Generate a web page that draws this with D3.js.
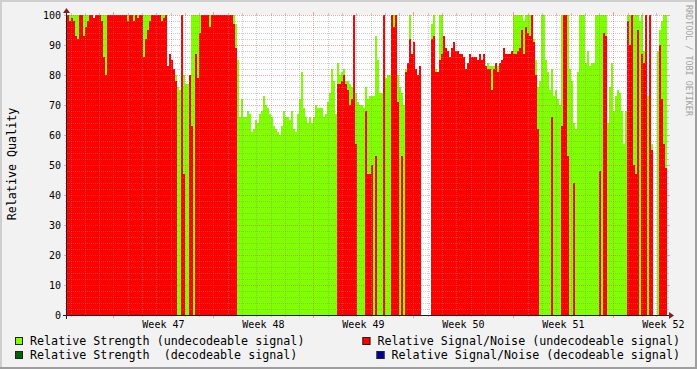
<!DOCTYPE html>
<html lang="en">
<head>
  <meta charset="UTF-8">
  <title>Relative Quality</title>
  <style>
    * {box-sizing: border-box;}
    html, body {
      margin: 0;
      padding: 0;
      background: #f2f2f2;
    }
    text {font-family: "DejaVu Sans Mono", monospace; white-space: pre;}
  </style>
</head>
<body>
  <svg id="chart"></svg>

  <script src="https://d3js.org/d3.v7.min.js"></script>
  <script>
    // samples cover Thu 15 Nov 2007 18:00 .. 42 days later, 300 slots
    const strength = [
      100,100,100,100,100,100,100,100,100,100,100,100,100,99,100,100,100,100,100,100,100,100,100,100,100,
      100,100,100,100,100,100,100,100,100,100,100,100,100,100,100,100,100,100,100,100,100,100,100,100,100,
      80,80,80,80,80,76,75,80,80,77,77,78,100,100,100,100,100,100,100,100,100,100,100,100,100,
      100,100,100,100,100,100,100,100,100,97,85,66,72,66,66,68,67,61,62,65,64,67,68,73,70,
      69,67,66,63,62,61,60,63,68,66,66,65,68,62,61,67,72,81,69,66,64,66,64,66,70,
      69,69,69,66,67,71,74,82,78,67,84,80,81,82,78,78,77,76,76,74,71,70,70,69,76,
      72,73,73,73,93,85,74,74,80,79,80,80,78,100,100,80,76,74,70,82,82,100,84,84,80,
      80,82,null,null,null,null,null,97,100,82,81,100,100,88,87,86,85,86,87,86,86,85,85,84,80,
      82,84,84,84,84,84,84,84,84,82,84,83,83,83,82,83,82,83,86,86,86,86,86,100,100,
      100,100,100,98,100,100,100,100,92,85,76,78,100,100,85,81,75,82,73,75,72,70,100,100,100,
      100,82,78,64,62,81,100,100,100,84,88,83,84,84,100,100,100,100,100,100,64,76,84,68,73,
      75,74,68,57,68,100,100,100,100,100,100,98,100,88,82,73,72,57,null,null,88,95,98,100,100
    ]
    const signalNoise = [
      100,98,99,98,93,92,100,100,93,96,98,100,100,99,100,100,100,98,86,80,100,100,100,100,100,
      100,100,100,100,100,98,100,100,98,100,99,100,100,86,92,95,98,100,100,100,100,100,98,99,100,
      83,87,85,82,78,0,0,100,47,0,0,80,63,0,87,79,94,100,100,100,100,96,100,100,100,
      100,100,100,100,100,100,100,100,97,89,0,0,0,0,0,0,0,0,0,0,0,0,0,0,0,
      0,0,0,0,0,0,0,0,0,0,0,0,0,0,0,0,0,0,0,0,0,0,0,0,0,
      0,0,0,0,0,0,0,0,0,0,77,77,78,80,77,75,70,72,100,57,0,0,0,0,68,
      47,47,50,0,53,0,0,0,100,0,0,0,100,96,100,71,0,53,0,81,84,92,87,91,82,
      80,83,null,null,null,null,null,92,93,81,81,85,87,93,89,88,86,89,91,88,88,87,87,86,82,
      84,87,86,86,86,85,87,85,87,83,82,82,75,82,84,81,84,85,89,87,87,87,88,87,87,
      88,89,95,87,96,94,93,100,91,80,62,0,0,0,0,0,0,66,0,0,0,0,63,100,100,
      53,0,0,44,0,0,0,0,0,0,0,0,0,0,0,0,48,0,94,93,0,0,0,0,0,
      0,0,0,0,0,98,90,100,50,47,95,0,87,84,100,0,100,55,null,null,0,90,72,57,49
    ]
    const yTicks = [0, 10, 20, 30, 40, 50, 60, 70, 80, 90, 100]
    const weekLabels = ['Week 47', 'Week 48', 'Week 49', 'Week 50', 'Week 51', 'Week 52']
    const legendLeft = [
      {name: 'Relative Strength (undecodeable signal)', color: '#80ff00'},
      {name: 'Relative Strength  (decodeable signal)', color: '#006400'}
    ]
    const legendRight = [
      {name: 'Relative Signal/Noise (undecodeable signal)', color: '#ff0000'},
      {name: 'Relative Signal/Noise (decodeable signal)', color: '#000099'}
    ]

    const width = 697
    const height = 369
    const plot = {left: 67, top: 15, w: 600, h: 300}
    const start = new Date(Date.UTC(2007, 10, 15, 18, 0))
    const end = d3.utcDay.offset(start, 42)
    const step = (end - start) / strength.length
    const times = d3.range(strength.length + 1).map(i => new Date(+start + i * step))

    const x = d3.scaleUtc().domain([start, end]).range([plot.left, plot.left + plot.w])
    const y = d3.scaleLinear().domain([0, 100]).range([plot.top + plot.h, plot.top])

    const svg = d3.select('#chart')
      .attr('width', width)
      .attr('height', height)
      .style('display', 'block')

    // frame
    svg.append('rect').attr('width', width).attr('height', height).attr('fill', '#f2f2f2')
    svg.append('rect').attr('width', width).attr('height', 2).attr('fill', '#cfcfcf')
    svg.append('rect').attr('width', 2).attr('height', height).attr('fill', '#cfcfcf')
    svg.append('rect').attr('y', height - 2).attr('width', width).attr('height', 2).attr('fill', '#9e9e9e')
    svg.append('rect').attr('x', width - 2).attr('width', 2).attr('height', height).attr('fill', '#9e9e9e')
    svg.append('rect')
      .attr('x', plot.left).attr('y', plot.top)
      .attr('width', plot.w).attr('height', plot.h)
      .attr('fill', '#ffffff')

    // areas as 2px columns: strength first, S/N on top
    function columns (values, color) {
      svg.append('g')
        .attr('shape-rendering', 'crispEdges')
        .selectAll('rect')
        .data(values.map((v, i) => ({v, i})).filter(d => d.v !== null && d.v > 0))
        .enter().append('rect')
        .attr('x', d => x(times[d.i]))
        .attr('width', d => x(times[d.i + 1]) - x(times[d.i]))
        .attr('y', d => y(d.v))
        .attr('height', d => y(0) - y(d.v))
        .attr('fill', color)
    }
    columns(strength, '#80ff00')
    columns(signalNoise, '#ff0000')

    // grid on top, as rrdtool does
    const minorCol = 'rgba(143,143,143,0.45)'
    const majorCol = 'rgba(222,79,79,0.5)'
    const grid = svg.append('g').attr('shape-rendering', 'crispEdges')
    const x0 = plot.left, x1 = plot.left + plot.w
    const y0 = plot.top + plot.h, y1 = plot.top

    d3.range(0, 101, 2).forEach(v => {
      const major = v % 10 === 0
      const yy = Math.round(y(v)) + 0.5
      const col = major ? majorCol : minorCol
      if (v > 0) {
        grid.append('line').attr('x1', x0).attr('x2', x1).attr('y1', yy).attr('y2', yy)
          .attr('stroke', col).attr('stroke-dasharray', '1,1')
      }
      grid.append('line').attr('x1', x0 - (major ? 3 : 2)).attr('x2', x0).attr('y1', yy).attr('y2', yy).attr('stroke', col)
      grid.append('line').attr('x1', x1).attr('x2', x1 + (major ? 3 : 2)).attr('y1', yy).attr('y2', yy).attr('stroke', col)
    })

    d3.utcDay.range(d3.utcDay.ceil(start), end).forEach(d => {
      const major = d.getUTCDay() === 1
      const xx = Math.round(x(d)) + 0.5
      const col = major ? majorCol : minorCol
      grid.append('line').attr('x1', xx).attr('x2', xx).attr('y1', y1).attr('y2', y0)
        .attr('stroke', col).attr('stroke-dasharray', '1,1')
      grid.append('line').attr('x1', xx).attr('x2', xx).attr('y1', y0).attr('y2', y0 + (major ? 3 : 2)).attr('stroke', col)
      grid.append('line').attr('x1', xx).attr('x2', xx).attr('y1', y1 - (major ? 3 : 2)).attr('y2', y1).attr('stroke', col)
    })

    // axes
    const axisCol = '#1f1f1f'
    const arrowCol = '#801f1f'
    grid.append('line').attr('x1', x0 - 4).attr('x2', x1 + 4).attr('y1', y0 + 0.5).attr('y2', y0 + 0.5).attr('stroke', axisCol)
    grid.append('line').attr('x1', x0 - 0.5).attr('x2', x0 - 0.5).attr('y1', y0 + 4).attr('y2', y1 - 4).attr('stroke', axisCol)
    svg.append('path')
      .attr('d', `M${x1 + 2},${y0 - 3}L${x1 + 7},${y0 + 0.5}L${x1 + 2},${y0 + 4}Z`)
      .attr('fill', arrowCol)
    svg.append('path')
      .attr('d', `M${x0 - 4},${y1 - 2}L${x0 - 0.5},${y1 - 7}L${x0 + 3},${y1 - 2}Z`)
      .attr('fill', arrowCol)

    // y labels
    svg.append('g').selectAll('text')
      .data(yTicks)
      .enter().append('text')
      .attr('x', 61)
      .attr('y', d => y(d))
      .attr('dy', '0.36em')
      .attr('text-anchor', 'end')
      .attr('font-size', 10)
      .text(d => d)

    // week labels, centred in their week
    const mondays = d3.utcMonday.range(start, end)
    svg.append('g').selectAll('text')
      .data(mondays.slice(0, weekLabels.length))
      .enter().append('text')
      .attr('x', d => x(new Date(+d + 3.5 * 864e5)))
      .attr('y', 328)
      .attr('text-anchor', 'middle')
      .attr('font-size', 10)
      .text((d, i) => weekLabels[i])

    svg.append('text')
      .attr('transform', 'translate(15.5,164) rotate(-90)')
      .attr('text-anchor', 'middle')
      .attr('font-size', 11.7)
      .text('Relative Quality')

    svg.append('text')
      .attr('transform', 'translate(685.5,5) rotate(90)')
      .attr('font-size', 8.4)
      .attr('fill', '#a3a3a3')
      .text('RRDTOOL / TOBI OETIKER')

    // legend
    const rowY = [345, 359]
    function legendBox (bx, by, color) {
      svg.append('rect').attr('x', bx).attr('y', by).attr('width', 8).attr('height', 8).attr('fill', color)
      svg.append('rect').attr('x', bx + 0.5).attr('y', by + 0.5).attr('width', 7).attr('height', 7)
        .attr('fill', 'none').attr('stroke', '#222')
    }
    legendLeft.forEach((d, i) => {
      legendBox(15, rowY[i] - 8, d.color)
      svg.append('text').attr('x', 30).attr('y', rowY[i]).attr('font-size', 11.7).text(d.name)
    })
    legendRight.forEach((d, i) => {
      const t = svg.append('text').attr('x', 680).attr('y', rowY[i])
        .attr('text-anchor', 'end').attr('font-size', 11.7).text(d.name)
      const len = t.node().getComputedTextLength()
      legendBox(680 - len - 15, rowY[i] - 8, d.color)
    })
  </script>
</body>
</html>
